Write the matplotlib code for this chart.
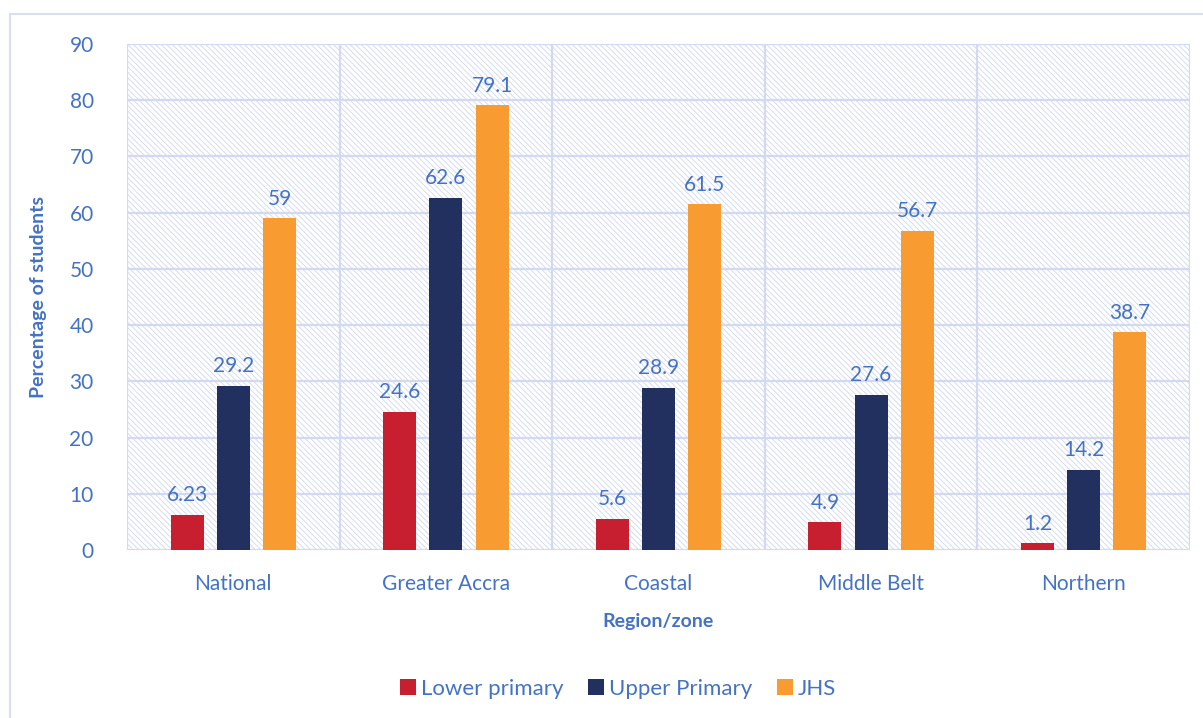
import matplotlib
matplotlib.use("Agg")
import matplotlib.pyplot as plt
from matplotlib.patches import Rectangle
import numpy as np

regions = ["National", "Greater Accra", "Coastal", "Middle Belt", "Northern"]
lower_primary = [6.23, 24.6, 5.6, 4.9, 1.2]
upper_primary = [29.2, 62.6, 28.9, 27.6, 14.2]
jhs = [59, 79.1, 61.5, 56.7, 38.7]
series_names = ["Lower primary", "Upper Primary", "JHS"]
label_text = [["6.23", "24.6", "5.6", "4.9", "1.2"],
              ["29.2", "62.6", "28.9", "27.6", "14.2"],
              ["59", "79.1", "61.5", "56.7", "38.7"]]

text_col = "#4472C4"
grid_col = "#D3D9F0"
colors = ["#C81F30", "#21305E", "#F89B31"]

plt.rcParams["font.family"] = ["Lato", "DejaVu Sans"]
plt.rcParams["hatch.color"] = "#CFD7EF"
plt.rcParams["hatch.linewidth"] = 0.6

fig = plt.figure(figsize=(12.03, 7.18), dpi=100)
fig.patches.append(Rectangle((10 / 1203, -0.1), 1.2, (718 - 14) / 718 + 0.1,
                             transform=fig.transFigure, fill=False,
                             edgecolor="#D9DEF2", linewidth=1.5))
ax = fig.add_axes([127 / 1203, 1 - 550 / 718, (1190 - 127) / 1203, (550 - 44) / 718])

# hatched background
ax.add_patch(Rectangle((0, 0), 1, 1, transform=ax.transAxes, facecolor="white",
                       hatch="\\\\\\\\\\\\", edgecolor="#CFD7EF", linewidth=0, zorder=0))

x = np.arange(len(regions))
width = 0.155
step = 0.217
for i, vals in enumerate([lower_primary, upper_primary, jhs]):
    bars = ax.bar(x + (i - 1) * step, vals, width, color=colors[i],
                  label=series_names[i], zorder=3)
    for b, t in zip(bars, label_text[i]):
        ax.annotate(t, (b.get_x() + b.get_width() / 2, b.get_height()),
                    xytext=(0, 7), textcoords="offset points", ha="center",
                    va="bottom", color=text_col, fontsize=15)

ax.set_xlim(-0.5, len(regions) - 0.5)
ax.set_ylim(0, 90)
ax.set_yticks(range(0, 91, 10))
ax.set_xticks(x)
ax.set_xticklabels(regions)
for yv in range(0, 91, 10):
    ax.axhline(yv, color=grid_col, linewidth=1.6, zorder=1)
for xv in np.arange(-0.5, len(regions), 1):
    ax.axvline(xv, color=grid_col, linewidth=1.6, zorder=1)
for s in ax.spines.values():
    s.set_visible(False)
ax.tick_params(axis="both", length=0, colors=text_col, labelsize=15)
ax.tick_params(axis="x", pad=17)
ax.tick_params(axis="y", pad=24)

ax.set_xlabel("Region/zone", color=text_col, fontsize=14, fontweight="bold", labelpad=14)
ax.set_ylabel("Percentage of students", color=text_col, fontsize=14, fontweight="bold", labelpad=16)

leg = fig.legend(loc="center", bbox_to_anchor=(0.514, 1 - 689 / 718), ncol=3,
                 frameon=False, fontsize=16, handlelength=0.7, handleheight=0.7,
                 columnspacing=1.1, handletextpad=0.25)
for t in leg.get_texts():
    t.set_color(text_col)

fig.savefig("out.png", dpi=100)
